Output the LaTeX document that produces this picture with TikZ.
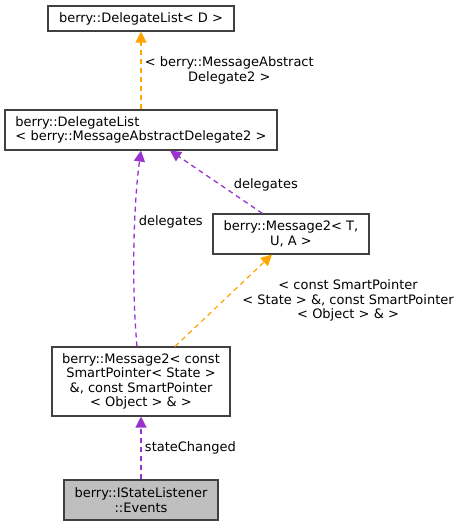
\documentclass[tikz,border=0pt]{standalone}
\usepackage{fontspec}
\setmainfont{DejaVu Sans}
\usetikzlibrary{arrows.meta}
\usetikzlibrary{positioning}
\definecolor{edgeorange}{HTML}{FFA500}
\definecolor{edgepurple}{HTML}{9A32CD}
\definecolor{boxline}{HTML}{404040}
\tikzset{x=1pt,y=-1pt,
      every node/.style={font=\fontsize{13}{14.5}\selectfont},
      cls/.style={draw=boxline, line width=1.1pt, fill=white, inner sep=0pt,
      minimum height=#1, align=center},
      cls/.default=25pt,
      tmpl/.style={draw=edgeorange, line width=1.2pt, dash pattern=on 5pt off 4pt,
      -{Triangle[length=11pt,width=11pt]}},
      use/.style={draw=edgepurple, line width=1.3pt, dash pattern=on 5pt off 4pt,
      -{Triangle[length=11pt,width=11pt]}}}

\begin{document}
\begin{tikzpicture}
          \useasboundingbox (0,0) rectangle (459,527);
          \node[cls, minimum width=186pt] (dlD) at (141,18.5) {berry::DelegateList< D >};
          \node[cls=40pt, minimum width=272pt, align=left] (dl) at (141,130)
               {berry::DelegateList\\< berry::MessageAbstractDelegate2 >};
          \node[cls=40pt, minimum width=156pt] (msgT) at (291,234) {berry::Message2< T,\\U, A >};
          \node[cls=69pt, minimum width=178pt] (msg) at (141,381.5)
               {berry::Message2< const\\SmartPointer< State >\\\&, const SmartPointer\\< Object > \& >};
          \node[cls=40pt, minimum width=154pt, fill=gray!50] (ev) at (141,500)
               {berry::IStateListener\\::Events};
          \draw[tmpl] (dl.north) -- node[right, align=center]
               {< berry::MessageAbstract\\Delegate2 >} (dlD.south);
          \draw[use] (msgT.north west) ++(50,0) coordinate (t1) -- node[pos=0.45, right=9pt] {delegates} ([xshift=29pt]dl.south);
          \draw[use] ([xshift=-4pt]msg.north) .. controls (131,280) and (134,200) .. (dl.south)
               node[pos=0.6, right] {delegates};
          \draw[tmpl] ([xshift=34pt]msg.north) -- node[right=15pt, align=center]
               {< const SmartPointer\\< State > \&, const SmartPointer\\< Object > \& >} ([xshift=-19pt]msgT.south);
          \draw[use] (ev.north) -- node[right] {stateChanged} (msg.south);
       \end{tikzpicture}
\end{document}
